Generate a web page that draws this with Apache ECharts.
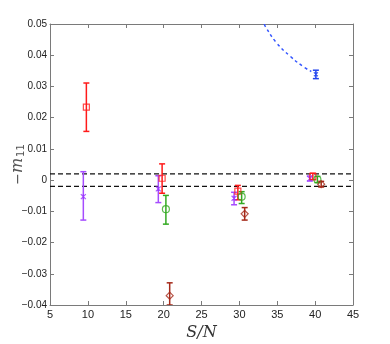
<!DOCTYPE html>
<html>
<head>
<meta charset="utf-8">
<script src="https://cdn.jsdelivr.net/npm/echarts@6/dist/echarts.min.js"></script>
<style>
  html, body { margin: 0; padding: 0; background: #fff; }
  #chart { width: 390px; height: 344px; }
</style>
</head>
<body>
<div id="chart"></div>
<script>
// values
const purpleX = [9.4, 19.3, 29.3, 39.3]
const purpleY = [-0.0053, -0.0028, -0.0058, 0.0005]
const purpleLo = [-0.0128, -0.0072, -0.0079, -0.0003]
const purpleHi = [0.0027, 0.0014, -0.0039, 0.0013]

const redX = [9.8, 19.8, 29.8, 39.7]
const redY = [0.0234, 0.0006, -0.0035, 0.0012]
const redLo = [0.0156, -0.0042, -0.0063, 0.0001]
const redHi = [0.0311, 0.0052, -0.0017, 0.0022]

const greenX = [20.3, 30.3, 40.3]
const greenY = [-0.0093, -0.0053, 0.0002]
const greenLo = [-0.0141, -0.0075, -0.0008]
const greenHi = [-0.0049, -0.0037, 0.0012]

const brownX = [20.8, 30.7, 40.8]
const brownY = [-0.0370, -0.0108, -0.0013]
const brownLo = [-0.0400, -0.0128, -0.0022]
const brownHi = [-0.0329, -0.0088, -0.0004]

const blueX = [40.1]
const blueY = [0.0339]
const blueLo = [0.0325]
const blueHi = [0.0352]

const curveX = [33.3, 33.4, 34.9, 36.7, 38.4, 39.5]
const curveY = [0.0500, 0.0493, 0.0440, 0.0397, 0.0364, 0.0348]

const bandX = [5, 45]
const bandY = [0.002, -0.002]

const chart = echarts.init(document.getElementById('chart'))

const crossPath = 'path://M0,0L10,10M10,0L0,10M5,0L5,10'

function errorBars(name, color, xs, lo, hi) {
  return {
    name: name,
    type: 'custom',
    clip: true,
    data: xs.map((x, i) => [x, lo[i], hi[i]]),
    renderItem: function(params, api) {
      const top = api.coord([api.value(0), api.value(2)])
      const bot = api.coord([api.value(0), api.value(1)])
      const w = 3
      const style = { stroke: color, lineWidth: 1.5 }
      return {
        type: 'group',
        children: [
          { type: 'line', shape: { x1: top[0], y1: top[1], x2: bot[0], y2: bot[1] }, style: style },
          { type: 'line', shape: { x1: top[0] - w, y1: top[1], x2: top[0] + w, y2: top[1] }, style: style },
          { type: 'line', shape: { x1: bot[0] - w, y1: bot[1], x2: bot[0] + w, y2: bot[1] }, style: style }
        ]
      }
    },
    z: 3
  }
}

function markers(name, color, xs, ys, symbol, size) {
  return {
    name: name,
    type: 'scatter',
    data: xs.map((x, i) => [x, ys[i]]),
    symbol: symbol,
    symbolSize: size,
    itemStyle: { color: 'rgba(255,255,255,0)', borderColor: color, borderWidth: 1.2 },
    z: 4
  }
}

function bandLine(y) {
  return {
    type: 'line',
    data: bandX.map(x => [x, y]),
    symbol: 'none',
    silent: true,
    lineStyle: { color: '#111', type: [5, 3], width: 1.3 },
    z: 2
  }
}

const axisGray = '#7a7a7a'

chart.setOption({
  animation: false,
  grid: { left: 50, right: 37, top: 24, bottom: 39, outerBoundsMode: 'none', containLabel: false },
  xAxis: [{
    type: 'value',
    min: 5,
    max: 45,
    interval: 5,
    name: 'S/N',
    nameLocation: 'middle',
    nameGap: 20,
    nameMoveOverlap: false,
    nameTextStyle: { fontFamily: 'DejaVu Serif', fontStyle: 'italic', fontSize: 16, color: '#333' },
    axisLine: { onZero: false, lineStyle: { color: axisGray } },
    axisTick: { inside: true, length: 4, lineStyle: { color: axisGray } },
    axisLabel: { color: '#222', fontSize: 11, fontFamily: 'Liberation Sans', margin: 4 },
    splitLine: { show: false }
  }, {
    type: 'value',
    position: 'top',
    min: 5,
    max: 45,
    interval: 5,
    axisLine: { onZero: false, lineStyle: { color: axisGray } },
    axisTick: { inside: true, length: 4, lineStyle: { color: axisGray } },
    axisLabel: { show: false },
    splitLine: { show: false }
  }],
  yAxis: [{
    type: 'value',
    min: -0.04,
    max: 0.05,
    interval: 0.01,
    name: '{a|−}{m|m}{s|11}',
    nameLocation: 'middle',
    nameGap: 24,
    nameRotate: 90,
    nameMoveOverlap: false,
    nameTextStyle: {
      color: '#555',
      rich: {
        a: { fontFamily: 'DejaVu Sans', fontSize: 14, color: '#555' },
        m: { fontFamily: 'DejaVu Serif', fontStyle: 'italic', fontSize: 16, color: '#555' },
        s: { fontFamily: 'DejaVu Sans', fontSize: 10, color: '#555', padding: [6, 0, 0, 1] }
      }
    },
    axisLine: { onZero: false, lineStyle: { color: axisGray } },
    axisTick: { inside: true, length: 4, lineStyle: { color: axisGray } },
    axisLabel: { color: '#222', fontSize: 10, fontFamily: 'Liberation Sans', margin: 3,
      formatter: v => {
        const r = Math.round(v * 100) / 100
        return r === 0 ? '0' : r.toFixed(2).replace('-', '−')
      } },
    splitLine: { show: false }
  }, {
    type: 'value',
    position: 'right',
    min: -0.04,
    max: 0.05,
    interval: 0.01,
    axisLine: { onZero: false, lineStyle: { color: axisGray } },
    axisTick: { inside: true, length: 4, lineStyle: { color: axisGray } },
    axisLabel: { show: false },
    splitLine: { show: false }
  }],
  series: [
    bandLine(bandY[0]),
    bandLine(bandY[1]),
    {
      name: 'curve',
      type: 'line',
      data: curveX.map((x, i) => [x, curveY[i]]),
      symbol: 'none',
      smooth: true,
      clip: true,
      lineStyle: { color: '#3355ff', type: [3, 3], width: 1.5 }
    },
    errorBars('purple', '#a64dff', purpleX, purpleLo, purpleHi),
    errorBars('red', '#ff1a1a', redX, redLo, redHi),
    errorBars('green', '#33aa22', greenX, greenLo, greenHi),
    errorBars('brown', '#a52a1a', brownX, brownLo, brownHi),
    errorBars('blue', '#2244ee', blueX, blueLo, blueHi),
    markers('purple', '#9933ff', purpleX, purpleY, crossPath, 5),
    markers('red', '#ff1a1a', redX, redY, 'rect', 6),
    markers('green', '#33aa22', greenX, greenY, 'circle', 7),
    markers('brown', '#a52a1a', brownX, brownY, 'diamond', 7),
    markers('blue', '#2244ee', blueX, blueY, crossPath, 4)
  ]
})
</script>
</body>
</html>
